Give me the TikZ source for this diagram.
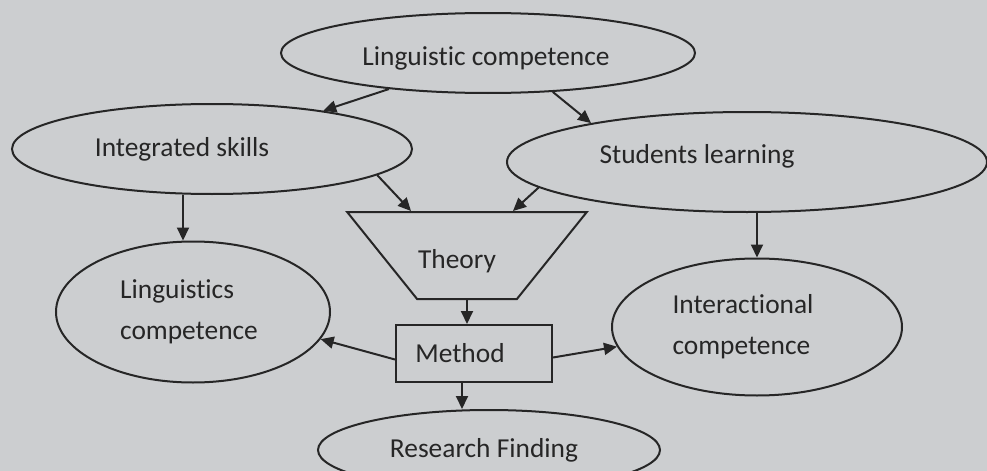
\documentclass[tikz,border=0pt]{standalone}
\usepackage{fontspec}
\setmainfont{Carlito}[Ligatures={NoCommon}]
\usepackage{xcolor}
\usetikzlibrary{shapes}
\usetikzlibrary{calc}
\usetikzlibrary{arrows.meta}
\definecolor{paper}{RGB}{204,206,208}
\definecolor{ink}{RGB}{38,38,38}

\begin{document}
\begin{tikzpicture}[x=0.5pt, y=-0.5pt, line width=1pt, color=ink,
                    font=\fontsize{13.7}{20.5}\selectfont,
                    bubble/.style={ellipse, draw},
                    every label/.style={align=left},
                    arr/.style={-{Triangle[length=6.5pt, width=6pt]}}]
                    \useasboundingbox (0,0) rectangle (987,471);
                    \clip (0,0) rectangle (987,471);
                    \fill[paper] (0,0) rectangle (987,471);
                    % ellipses, text moved a bit off centre as in the print
                    \node [bubble, minimum width=207pt, minimum height=40pt,
                        label={[xshift=-1pt, yshift=-2.5pt]center:Linguistic competence}] (lc) at (488,53) {};
                    \node [bubble, minimum width=200pt, minimum height=45pt,
                        label={[xshift=-15pt]center:Integrated skills}] (skills) at (212,149) {};
                    \node [bubble, minimum width=240pt, minimum height=50pt,
                        label={[xshift=-25pt, yshift=3pt]center:Students learning}] (students) at (747,162) {};
                    \node [bubble, minimum width=137pt, minimum height=70.5pt,
                        label={[xshift=-2pt]center:Linguistics\\competence}] (lingcomp) at (193,312) {};
                    \node [bubble, minimum width=145pt, minimum height=68.5pt,
                        label={[xshift=-7pt]center:Interactional\\competence}] (inter) at (757,327) {};
                    \node [bubble, minimum width=171pt, minimum height=40pt,
                        label={[xshift=-2.5pt]center:Research Finding}] (finding) at (489,450) {};
                    % theory and method
                    \node [trapezium, draw, trapezium stretches=true, shape border rotate=180,
                        trapezium left angle=55, trapezium right angle=55,
                        minimum width=120pt, minimum height=43.5pt,
                        label={[xshift=-5pt, yshift=-3pt]center:Theory}] (theory) at (467,255.5) {};
                    \node [rectangle, draw, minimum width=78pt, minimum height=28.5pt,
                        label={[xshift=-7pt]center:Method}] (method) at (474,353.5) {};
                    % connectors
                    \draw[arr] (lc.200) -- (skills.19);
                    \draw[arr] (lc.-31) -- (students.166);
                    \draw[arr] (skills.-9) -- ([xshift=-28pt]theory.north);
                    \draw[arr] (students.187) -- ([xshift=23pt]theory.north);
                    \draw[arr] ($(lingcomp.north |- skills.south)+(-10,0)$) -- ($(lingcomp.north)+(-10,0)$);
                    \draw[arr] (inter.north |- students.south) -- (inter.north);
                    \draw[arr] (theory.south) -- (theory.south |- method.north);
                    \draw[arr] ([yshift=-3pt]method.west) -- (lingcomp.-12);
                    \draw[arr] ([yshift=-2pt]method.east) -- (inter.188);
                    \draw[arr] ($(method.south)+(-12,0)$) -- ($(method.south |- finding.north)+(-12,0)$);
                \end{tikzpicture}
\end{document}
